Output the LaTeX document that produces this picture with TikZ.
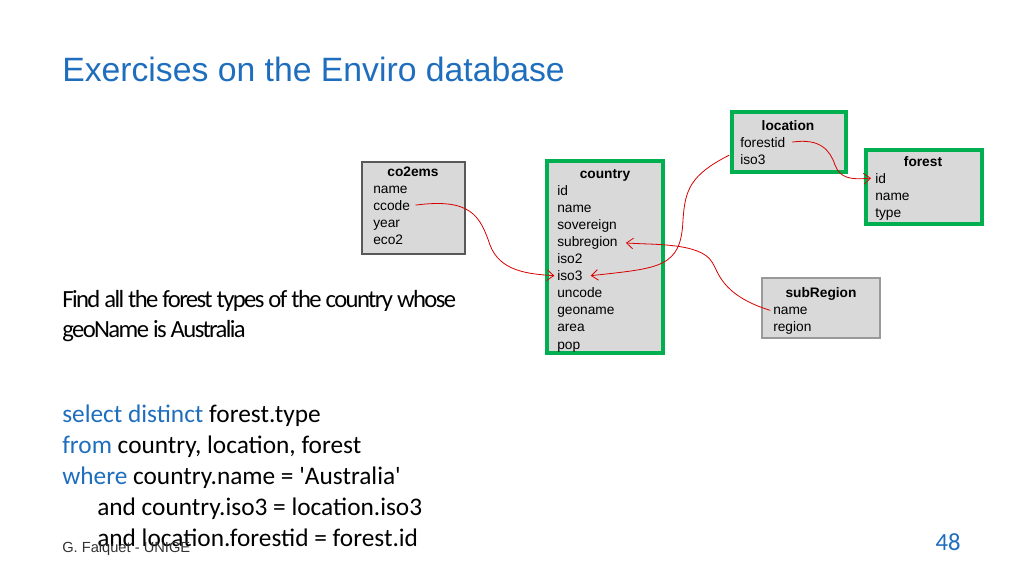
\documentclass[tikz,border=0pt]{standalone}
\usepackage{fontspec}
\setmainfont{Liberation Sans}
\newfontfamily\calib{Carlito}
\usetikzlibrary{arrows.meta,positioning}
\definecolor{slideblue}{RGB}{31,110,190}
\definecolor{tablegreen}{RGB}{0,176,80}
\definecolor{tablefill}{RGB}{217,217,217}
\tikzset{
  table/.style={draw=gray!70!black, fill=tablefill, line width=0.8pt},
  keytable/.style={draw=tablegreen, fill=tablefill, line width=3.5pt},
  field/.style={anchor=base west, inner sep=0pt, font=\fontsize{10.3}{12}\selectfont},
  head/.style={anchor=base, inner sep=0pt, font=\bfseries\fontsize{10.3}{12}\selectfont},
  link/.style={red!85!black, line width=0.6pt, -{Straight Barb[length=5pt,width=8pt]}},
  sql/.style={anchor=base west, inner sep=0pt, font=\calib\fontsize{19}{20}\selectfont}
}
\begin{document}
\begin{tikzpicture}[x=0.75pt, y=-0.75pt]
  \useasboundingbox (0,0) rectangle (1024,576);
  % title
  \node[anchor=west, inner sep=0pt, text=slideblue, font=\fontsize{25.3}{29}\selectfont] (title) at (62,69) {Exercises on the Enviro database};
  % tables
  \draw[table] (362,162) rectangle (465,254);
  \node[head] (co2ems) at (413,176) {co2ems};
  \node[field] (co2name) at (373,193) {name};
  \node[field] (ccode) at (373,210) {ccode};
  \node[field] (year) at (373,227) {year};
  \node[field] (eco2) at (373,244) {eco2};

  \draw[keytable] (547,161) rectangle (663,353);
  \node[head] (country) at (605,178) {country};
  \foreach \f/\t [count=\i] in {cid/id, cname/name, sovereign/sovereign, subregion/subregion, iso2/iso2, ciso3/iso3, uncode/uncode, geoname/geoname, area/area, pop/pop}
    \node[field] (\f) at (557,178+17.1*\i) {\t};

  \draw[keytable] (732,112) rectangle (846,172);
  \node[head] (location) at (788,130) {location};
  \node[field] (forestid) at (740,147) {forestid};
  \node[field] (liso3) at (740,164) {iso3};

  \draw[keytable] (866,150) rectangle (982,224);
  \node[head] (forest) at (923,166) {forest};
  \node[field] (fid) at (875,183) {id};
  \node[field] (fname) at (875,200) {name};
  \node[field] (ftype) at (875,217) {type};

  \draw[table, draw=gray!80] (762,278) rectangle (880,338);
  \node[head] (subRegion) at (821,297) {subRegion};
  \node[field] (sname) at (773,314) {name};
  \node[field] (region) at (773,331) {region};

  % links
  \draw[link] ([xshift=4pt]ccode.east) .. controls (470,198) and (480,215) .. (490,245) .. controls (500,272) and (530,274) .. ([xshift=-2pt]ciso3.west);
  \draw[link] ([xshift=-8pt, yshift=3pt]liso3.west) .. controls (690,175) and (685,190) .. (683,220) .. controls (681,268) and (660,268) .. ([xshift=6pt]ciso3.east);
  \draw[link] ([xshift=-2pt]sname.west) .. controls (720,295) and (718,270) .. (712,262) .. controls (700,242) and (650,245) .. ([xshift=6pt]subregion.east);
  \draw[link] ([xshift=5pt]forestid.east) .. controls (820,138) and (830,150) .. (835,165) .. controls (840,178) and (850,180) .. ([xshift=-3pt]fid.west);

  % question
  \node[anchor=west, inner sep=0pt, align=left, font=\calib\fontsize{18.5}{22.5}\selectfont\addfontfeature{LetterSpace=-6.5}] (question) at (62,316) {Find all the forest types of the country whose\\geoName is Australia};
  % query
  \node[sql] (q1) at (62,422) {\textcolor{slideblue}{select distinct} forest.type};
  \node[sql] (q2) at (62,453) {\textcolor{slideblue}{from} country, location, forest};
  \node[sql] (q3) at (62,484) {\textcolor{slideblue}{where} country.name = 'Australia'};
  \node[sql] (q4) at (97,515) {and country.iso3 = location.iso3};
  \node[sql] (q5) at (97,546) {and location.forestid = forest.id};
  % footer
  \node[anchor=west, inner sep=0pt, font=\fontsize{11}{12}\selectfont, text=black!80] (author) at (62,549) {G. Falquet - UNIGE};
  \node[inner sep=0pt, text=slideblue, font=\calib\fontsize{18.5}{20}\selectfont] (page) at (948,542) {48};
\end{tikzpicture}
\end{document}
